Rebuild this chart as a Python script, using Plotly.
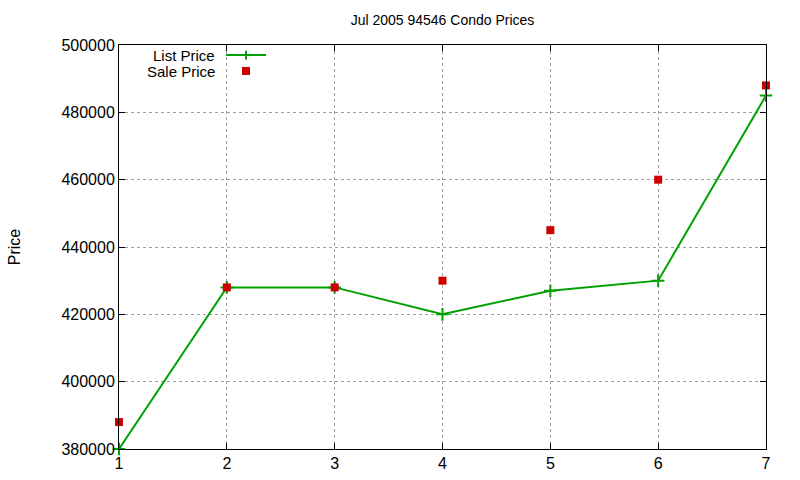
import plotly.graph_objects as go

x_vals = [1, 2, 3, 4, 5, 6, 7]
list_price = [380000, 428000, 428000, 420000, 427000, 430000, 485000]
sale_price = [388000, 428000, 428000, 430000, 445000, 460000, 488000]
y_ticks = [380000, 400000, 420000, 440000, 460000, 480000, 500000]

GREEN = "#00a000"
RED = "#cc0000"
FONT = "Liberation Sans, Arial, sans-serif"

fig = go.Figure()
fig.add_trace(go.Scatter(
    x=x_vals, y=list_price, mode="lines+markers", name="List Price",
    line=dict(color=GREEN, width=2),
    marker=dict(symbol="cross-thin-open", size=9, line=dict(color=GREEN, width=2)),
    cliponaxis=False, showlegend=False))
fig.add_trace(go.Scatter(
    x=x_vals, y=sale_price, mode="markers", name="Sale Price",
    marker=dict(symbol="square", size=8, color=RED),
    cliponaxis=False, showlegend=False))

axis_common = dict(
    showline=True, linecolor="black", linewidth=1, mirror="ticks",
    showgrid=True, gridcolor="#a0a0a0", griddash="dot", gridwidth=1,
    ticks="inside", ticklen=6, tickcolor="black",
    tickfont=dict(family=FONT, size=16, color="black"),
    zeroline=False, automargin=False,
)

fig.update_xaxes(range=[1, 7], tickvals=x_vals, ticktext=[str(v) for v in x_vals], **axis_common)
fig.update_yaxes(range=[380000, 500000], tickvals=y_ticks, ticktext=[str(v) for v in y_ticks],
                 title=dict(text="Price", font=dict(family=FONT, size=16, color="black"), standoff=36),
                 **axis_common)

# Legend (gnuplot style: text left of sample)
fig.add_annotation(xref="paper", yref="paper", x=0.1515, y=0.975, text="List Price",
                   showarrow=False, xanchor="right", yanchor="middle",
                   font=dict(family=FONT, size=15, color="black"))
fig.add_annotation(xref="paper", yref="paper", x=0.1515, y=0.9356, text="Sale Price",
                   showarrow=False, xanchor="right", yanchor="middle",
                   font=dict(family=FONT, size=15, color="black"))
fig.add_shape(type="line", xref="paper", yref="paper", x0=0.1654, x1=0.2272, y0=0.975, y1=0.975,
              line=dict(color=GREEN, width=2))
fig.add_shape(type="line", xref="paper", yref="paper", x0=0.1963, x1=0.1963, y0=0.975 - 0.011, y1=0.975 + 0.011,
              line=dict(color=GREEN, width=2))
fig.add_shape(type="rect", xref="paper", yref="paper", x0=0.1963 - 0.0062, x1=0.1963 + 0.0062,
              y0=0.9356 - 0.0099, y1=0.9356 + 0.0099, line=dict(width=0), fillcolor=RED)

fig.update_layout(
    width=800, height=480,
    margin=dict(l=119, r=34, t=45, b=31),
    paper_bgcolor="white", plot_bgcolor="white",
    title=dict(text="Jul 2005 94546 Condo Prices", xref="paper", x=0.5, xanchor="center",
               y=1 - 20 / 480, yanchor="middle",
               font=dict(family=FONT, size=14, color="black")),
)

fig.write_html("out.html")
